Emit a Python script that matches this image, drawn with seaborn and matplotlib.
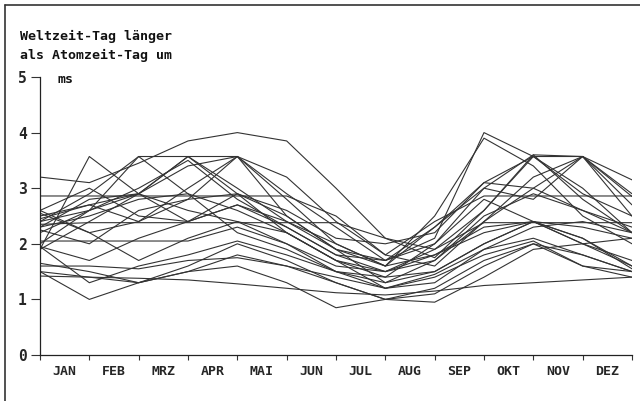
import numpy as np
import pandas as pd
import matplotlib
matplotlib.use("Agg")
import matplotlib.pyplot as plt
from matplotlib.lines import Line2D
import seaborn as sns

# Month boundaries (1 Jan ... 31 Dec) as positions 0..12
boundaries = list(range(13))
month_labels = ["JAN", "FEB", "MRZ", "APR", "MAI", "JUN",
                "JUL", "AUG", "SEP", "OKT", "NOV", "DEZ"]

# Excess length of day (ms) at each month boundary, one list per year
r01 = [3.20, 3.10, 3.45, 3.85, 4.00, 3.85, 3.00, 2.10, 1.75, 2.60, 3.60, 3.57, 3.15]
r02 = [2.40, 2.90, 3.57, 3.57, 3.57, 2.90, 2.30, 1.70, 2.10, 4.00, 3.57, 3.57, 2.85]
r03 = [2.86, 2.86, 2.86, 2.86, 2.86, 2.86, 2.50, 1.80, 2.40, 2.86, 2.86, 2.86, 2.86]
r04 = [2.35, 2.38, 2.38, 2.38, 2.38, 2.38, 2.38, 2.10, 1.90, 2.38, 2.38, 2.38, 2.38]
r05 = [2.05, 2.05, 2.05, 2.05, 2.30, 2.00, 1.50, 1.30, 1.50, 2.00, 2.40, 2.10, 1.60]
r06 = [1.60, 1.60, 1.55, 1.70, 1.75, 1.60, 1.40, 1.20, 1.45, 1.90, 2.10, 1.80, 1.50]
r07 = [1.42, 1.40, 1.38, 1.35, 1.28, 1.20, 1.12, 1.08, 1.15, 1.25, 1.30, 1.35, 1.40]
r08 = [1.50, 1.00, 1.30, 1.50, 1.60, 1.30, 0.85, 1.00, 1.20, 1.70, 2.00, 1.60, 1.50]
r09 = [2.00, 2.60, 3.57, 2.90, 2.60, 2.20, 1.70, 1.50, 1.90, 2.60, 3.57, 3.00, 2.20]
r10 = [2.50, 2.70, 2.40, 3.00, 3.57, 2.80, 2.00, 1.60, 2.30, 3.10, 3.57, 2.90, 2.50]
r11 = [2.30, 2.80, 2.90, 3.57, 3.00, 2.40, 1.90, 1.70, 2.00, 3.00, 3.60, 2.80, 2.20]
r12 = [2.60, 2.20, 2.40, 2.80, 3.57, 3.20, 2.40, 1.80, 1.60, 2.40, 3.00, 3.57, 2.70]
r13 = [1.95, 1.70, 2.10, 2.40, 2.70, 2.40, 2.00, 1.60, 1.80, 2.30, 2.40, 2.30, 2.10]
r14 = [1.90, 2.40, 2.90, 3.57, 2.90, 2.20, 1.70, 1.40, 1.50, 2.00, 2.40, 2.10, 1.55]
r15 = [2.20, 2.60, 2.90, 2.60, 2.40, 2.00, 1.60, 1.50, 1.80, 2.20, 2.40, 2.00, 1.60]
r16 = [1.50, 1.40, 1.30, 1.60, 2.00, 1.70, 1.30, 1.00, 1.10, 1.60, 2.00, 1.80, 1.50]
r17 = [1.65, 1.50, 1.30, 1.50, 1.80, 1.60, 1.30, 1.00, 0.95, 1.40, 1.90, 2.00, 2.10]
r18 = [2.25, 2.00, 2.60, 2.80, 2.90, 2.50, 1.90, 1.30, 1.70, 2.50, 2.90, 2.60, 2.20]
r19 = [1.95, 1.30, 1.60, 1.80, 2.05, 1.80, 1.50, 1.20, 1.40, 1.80, 2.05, 1.60, 1.40]
r20 = [2.60, 3.00, 2.50, 2.40, 2.90, 2.60, 2.10, 2.00, 2.20, 3.10, 3.00, 2.60, 2.30]
r21 = [2.45, 2.70, 2.90, 3.40, 3.57, 2.50, 1.90, 1.60, 2.50, 3.90, 3.40, 2.50, 2.00]
r22 = [2.40, 2.60, 3.00, 3.50, 2.80, 2.30, 1.80, 1.70, 2.30, 3.00, 2.80, 3.57, 2.50]
r23 = [1.90, 3.57, 2.90, 2.40, 2.70, 2.30, 1.80, 1.50, 1.70, 2.40, 3.20, 3.57, 2.90]
r24 = [2.55, 2.20, 1.70, 2.10, 2.40, 2.20, 1.70, 1.20, 1.30, 1.90, 2.30, 2.40, 2.20]
r25 = [2.30, 2.50, 2.80, 2.90, 2.20, 1.90, 1.50, 1.40, 2.00, 2.80, 2.40, 2.00, 1.70]

years = {
    "r01": r01, "r02": r02, "r03": r03, "r04": r04, "r05": r05,
    "r06": r06, "r07": r07, "r08": r08, "r09": r09, "r10": r10,
    "r11": r11, "r12": r12, "r13": r13, "r14": r14, "r15": r15,
    "r16": r16, "r17": r17, "r18": r18, "r19": r19, "r20": r20,
    "r21": r21, "r22": r22, "r23": r23, "r24": r24, "r25": r25,
}

df = pd.concat(
    [pd.DataFrame({"reihe": k, "pos": boundaries, "ms": v}) for k, v in years.items()],
    ignore_index=True,
)

sns.set_style("white")
plt.rcParams["font.family"] = ["DejaVu Sans Mono"]
plt.rcParams["font.weight"] = "bold"

W, H = 640, 401
fig = plt.figure(figsize=(W / 100, H / 100), dpi=100)
ax = fig.add_axes([40 / W, 1 - 355 / H, (632 - 40) / W, (355 - 77) / H])

sns.lineplot(data=df, x="pos", y="ms", units="reihe", estimator=None,
             color="#333333", linewidth=0.8, ax=ax, legend=False)

ax.set_xlim(0, 12)
ax.set_ylim(0, 5)
for s in ["top", "right"]:
    ax.spines[s].set_visible(False)
for s in ["left", "bottom"]:
    ax.spines[s].set_color("#222222")
    ax.spines[s].set_linewidth(0.9)

ax.set_xticks(boundaries)
ax.set_xticklabels([])
ax.set_xticks([b + 0.5 for b in boundaries[:-1]], minor=True)
ax.set_xticklabels(month_labels, minor=True, fontsize=9.5, fontweight="bold")
ax.tick_params(axis="x", which="major", direction="out", length=3.5, width=0.8,
               color="#333333", bottom=True)
ax.tick_params(axis="x", which="minor", length=0, pad=7, bottom=True)

ax.set_yticks(range(6))
ax.set_yticklabels([str(i) for i in range(6)], fontsize=10.5, fontweight="bold")
ax.tick_params(axis="y", direction="out", length=6.5, width=0.8, color="#333333",
               left=True, pad=3)
ax.set_xlabel("")
ax.set_ylabel("")

# Title lines and unit label
fig.text(20 / W, 1 - 40 / H, "Weltzeit-Tag länger", fontsize=9.5,
         fontweight="bold", ha="left", va="baseline", color="#111111")
fig.text(20 / W, 1 - 59 / H, "als Atomzeit-Tag um", fontsize=9.5,
         fontweight="bold", ha="left", va="baseline", color="#111111")
fig.text(57 / W, 1 - 83 / H, "ms", fontsize=9.5, fontweight="bold",
         ha="left", va="baseline", color="#111111")

# Frame along the top and left edges of the sheet
fig.add_artist(Line2D([4.5 / W, 1], [1 - 4.5 / H, 1 - 4.5 / H],
                      transform=fig.transFigure, color="#333333", lw=1.2))
fig.add_artist(Line2D([4.5 / W, 4.5 / W], [1 - 4.5 / H, 0],
                      transform=fig.transFigure, color="#333333", lw=1.2))

fig.savefig("out.png", dpi=100, facecolor="white")
